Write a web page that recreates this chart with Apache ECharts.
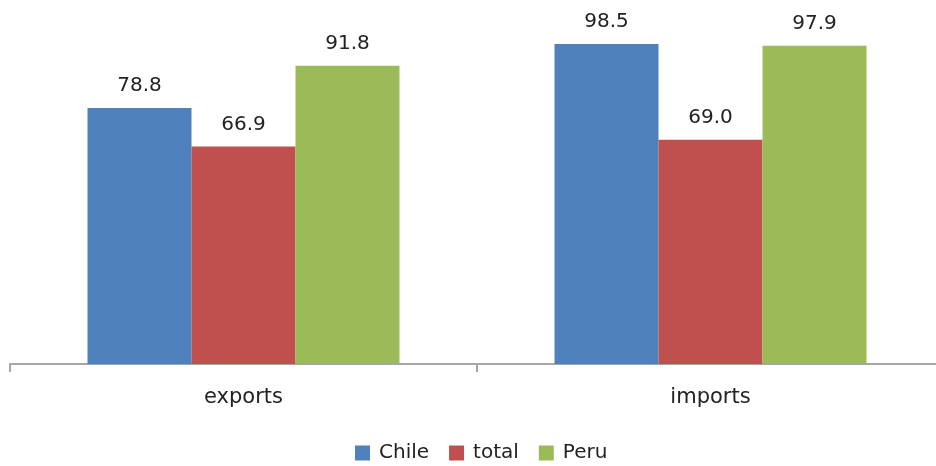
<!DOCTYPE html>
<html><head><meta charset="utf-8">
<script src="https://cdn.jsdelivr.net/npm/echarts@6/dist/echarts.min.js"></script>
<style>html,body{margin:0;padding:0;background:#fff}#c{width:936px;height:466px}</style>
</head><body><div id="c"></div>
<script>
const categories = ['exports', 'imports'];
const seriesNames = ['Chile', 'total', 'Peru'];
const chile = [78.8, 98.5];
const total = [66.9, 69.0];
const peru = [91.8, 97.9];
const colors = ['#4F81BD', '#C0504D', '#9BBB59'];
const values = [chile, total, peru];
const font = 'DejaVu Sans';
const chart = echarts.init(document.getElementById('c'), null, {renderer: 'canvas'});
chart.setOption({
  animation: false,
  textStyle: {fontFamily: font},
  legend: {
    top: 438, left: 350, itemWidth: 15, itemHeight: 15, itemGap: 20,
    icon: 'rect',
    textStyle: {fontSize: 20, color: '#222', fontFamily: font, padding: [0,0,0,4]},
    data: seriesNames
  },
  grid: {left: 10, top: 39, width: 934, height: 325, outerBoundsMode: 'none', containLabel: false},
  xAxis: {
    type: 'category', data: categories,
    axisLine: {lineStyle: {color: '#a6a6a6', width: 2}},
    axisTick: {show: true, length: 8, lineStyle: {color: '#a6a6a6', width: 2}},
    axisLabel: {fontSize: 21, color: '#222', margin: 23, fontFamily: font}
  },
  yAxis: {type: 'value', min: 0, max: 100, show: false, splitLine: {show: false}},
  series: seriesNames.map((n, i) => ({
    name: n, type: 'bar', data: values[i], barWidth: 104, barGap: '0%',
    itemStyle: {color: colors[i]},
    label: {show: true, position: 'top', distance: 12, fontSize: 20, color: '#222', fontFamily: font,
      formatter: p => p.value.toFixed(1)}
  }))
});
</script></body></html>
